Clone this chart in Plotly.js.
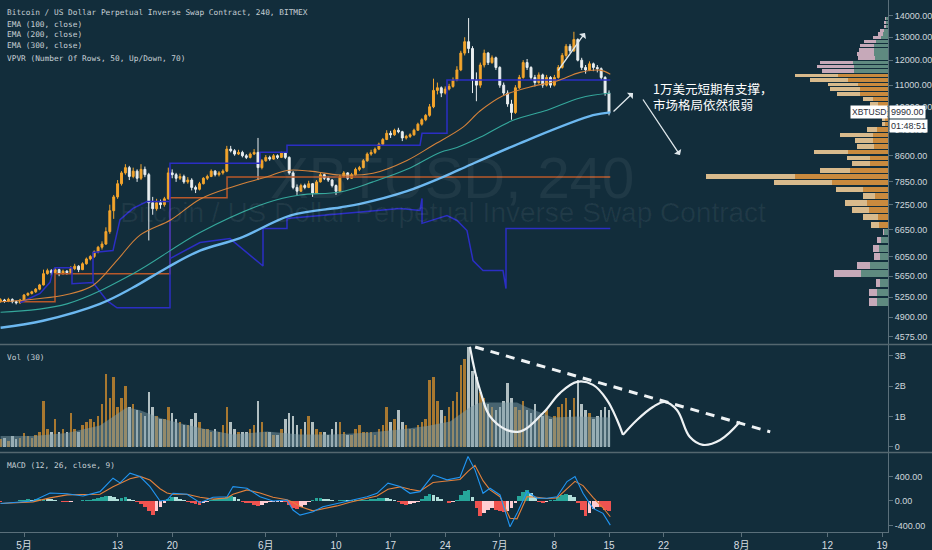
<!DOCTYPE html>
<html><head><meta charset="utf-8">
<script src="https://cdn.plot.ly/plotly-3.0.1.min.js"></script>
<style>html,body{margin:0;padding:0;background:#122d3b;}#chart{width:932px;height:550px;}</style>
</head><body><div id="chart"></div>
<script>
// ---------- 12h candles, BitMEX XBTUSD ----------
const candleStart = '2019-04-28 00:00';
const O = [5180,5200,5180,5210,5170,5150,5200,5290,5320,5350,5400,5480,5700,5760,5720,5780,5700,5750,5720,5800,5850,5780,5900,6000,6050,6150,6250,6320,6600,7100,7450,7800,8100,8250,8000,8150,7950,8200,8050,7300,7150,7300,7250,7400,8100,8050,7950,8000,7850,7900,7700,7650,7800,7950,8000,8150,8050,8100,8150,8800,8750,8650,8700,8600,8550,8650,8700,8250,8450,8550,8500,8600,8550,8680,8550,8100,7700,7600,7750,7700,7800,7550,7850,8050,7950,7900,7750,7600,8000,8100,7950,8050,8200,8250,8450,8650,8700,8800,8950,9100,9300,9250,9400,9350,9150,9200,9250,9400,9600,9750,9900,10200,10800,10900,10700,10850,10950,11200,11600,12300,12800,12500,11200,11000,11800,12300,11900,12100,11700,11000,10700,10300,10000,10900,11300,11900,11700,11300,11100,11400,11000,11300,11000,11300,11700,12200,12600,12400,12900,12000,11700,11600,11850,11700,11650,11300,10700];
const H = [5230,5220,5240,5230,5190,5220,5310,5340,5370,5420,5500,5780,5800,5790,5820,5800,5780,5770,5850,5900,5870,5930,6030,6080,6180,6280,6380,6700,7250,7500,7900,8150,8350,8300,8250,8200,8350,8280,8100,7450,7400,7380,7450,8250,8200,8100,8080,8050,7980,7950,7750,7850,7980,8050,8200,8180,8150,8200,8900,8900,8800,8780,8750,8650,8700,8800,9150,8500,8620,8600,8650,8640,8720,8700,8580,8150,7780,7800,7800,7880,7820,7900,8100,8080,8000,7930,7780,8050,8150,8120,8100,8250,8300,8500,8700,8780,8850,9000,9150,9400,9380,9450,9480,9380,9250,9300,9450,9650,9800,9950,10300,11250,11100,10950,10950,11050,11300,11750,12400,13000,13900,12600,11500,11900,12450,12350,12200,12150,11750,11100,10800,10450,11000,11400,12000,12050,11750,11400,11500,11450,11400,11350,11400,11800,12300,12700,12700,13250,12950,12100,11800,11950,11900,11800,11700,11350,10800];
const L = [5150,5150,5160,5140,5120,5130,5190,5270,5300,5330,5380,5470,5680,5660,5700,5650,5680,5680,5710,5770,5730,5770,5880,5970,6020,6120,6200,6300,6550,6900,7400,7750,8050,7900,7950,7850,7900,7980,6400,7000,7100,7150,7200,7380,7950,7850,7900,7800,7800,7620,7550,7620,7780,7900,7980,8000,8000,8050,8120,8700,8600,8620,8550,8500,8520,8620,7900,8200,8420,8450,8480,8500,8530,8500,8050,7650,7500,7580,7650,7680,7450,7530,7830,7900,7850,7700,7500,7580,7970,7900,7930,8030,8150,8230,8420,8600,8650,8770,8900,9080,9150,9220,9300,9050,9100,9150,9220,9380,9550,9700,9850,10150,10650,10550,10650,10800,10900,11150,11550,12200,12300,10700,10400,10900,11700,11800,11850,11600,10900,10600,10200,9750,9950,10850,11250,11600,11200,10950,11050,10900,10950,10900,10950,11250,11650,12100,12300,12350,11950,11600,11450,11550,11550,11500,11200,10600,9900];
const C = [5200,5180,5210,5170,5150,5200,5290,5320,5350,5400,5480,5700,5760,5720,5780,5700,5750,5720,5800,5850,5780,5900,6000,6050,6150,6250,6320,6600,7100,7450,7800,8100,8250,8000,8150,7950,8200,8050,7300,7150,7300,7250,7400,8100,8050,7950,8000,7850,7900,7700,7650,7800,7950,8000,8150,8050,8100,8150,8800,8750,8650,8700,8600,8550,8650,8700,8250,8450,8550,8500,8600,8550,8680,8550,8100,7700,7600,7750,7700,7800,7550,7850,8050,7950,7900,7750,7600,8000,8100,7950,8050,8200,8250,8450,8650,8700,8800,8950,9100,9300,9250,9400,9350,9150,9200,9250,9400,9600,9750,9900,10200,10800,10900,10700,10850,10950,11200,11600,12300,12800,12500,11200,11000,11800,12300,11900,12100,11700,11000,10700,10300,10000,10900,11300,11900,11700,11300,11100,11400,11000,11300,11000,11300,11700,12200,12600,12400,12900,12000,11700,11600,11850,11700,11650,11300,10700,9990];
// volume per bar, billions
const VOL = [0.25,0.3,0.2,0.35,0.25,0.3,0.45,0.35,0.3,0.4,0.5,1.5,0.6,0.5,0.9,0.5,0.6,0.5,1.1,0.6,0.5,0.7,0.8,0.9,0.8,1.0,1.4,2.4,1.6,2.3,1.3,1.6,2.0,1.3,1.4,1.2,1.1,1.0,1.8,1.3,1.0,0.9,0.9,1.3,1.1,0.9,0.8,0.7,0.7,0.9,1.1,0.8,0.6,0.6,0.5,0.6,0.5,0.7,1.3,0.8,0.6,0.5,0.5,0.5,0.6,0.7,1.5,0.8,0.5,0.5,0.4,0.4,0.6,0.9,1.1,1.0,0.7,0.6,0.8,1.0,0.8,0.6,0.5,0.5,0.4,0.6,0.8,0.8,0.5,0.4,0.4,0.6,0.7,0.5,0.5,0.5,0.4,0.6,0.7,1.3,0.8,0.9,1.2,0.8,0.7,0.6,0.6,0.7,0.8,0.9,2.2,2.3,1.5,1.2,1.0,1.3,1.5,1.8,2.7,2.9,3.3,2.5,2.3,1.8,1.6,1.4,1.3,1.2,1.3,1.5,2.1,1.6,1.3,1.2,1.5,1.2,1.1,1.4,1.0,1.0,1.2,0.9,1.0,1.3,1.4,1.6,1.2,1.6,2.2,1.4,1.2,1.1,0.9,1.0,1.2,1.3,1.2];
// MACD histogram per bar
const HIST = [-10,-8,-5,-5,0,10,20,25,20,25,30,40,35,25,15,5,-10,-15,-10,-5,5,10,15,20,30,50,70,85,80,60,30,50,60,40,10,-20,-50,-90,-160,-220,-170,-100,-40,30,70,60,40,10,-10,-30,-50,-60,-40,-20,10,30,40,50,70,75,60,30,-10,-30,-40,-60,-80,-60,-30,-20,-15,-10,-10,-20,-60,-110,-130,-100,-60,-20,20,45,50,40,30,15,0,10,15,10,10,15,15,20,20,25,35,45,50,45,30,10,-20,-50,-60,-50,-30,-10,40,80,110,100,70,40,0,-30,-20,10,90,160,180,60,-120,-250,-200,-150,-120,-140,-160,-180,-170,-110,-30,80,150,180,130,60,-10,-40,-20,10,20,60,100,110,90,70,-40,-150,-240,-200,-130,-90,-100,-140,-160];

// ---------- moving averages ----------
const ema100Dates = ['2019-04-28 00:00','2019-04-30 12:18','2019-05-06 12:18','2019-05-09 20:18','2019-05-12 22:09','2019-05-15 20:55','2019-05-19 20:18','2019-05-23 13:32','2019-05-27 19:05','2019-06-01 03:41','2019-06-03 17:14','2019-06-06 16:00','2019-06-10 12:18','2019-06-14 17:51','2019-06-19 02:28','2019-06-22 10:35','2019-06-26 06:46','2019-06-28 11:05','2019-07-01 09:50','2019-07-04 20:55','2019-07-08 08:00','2019-07-11 06:46','2019-07-13 20:18','2019-07-15 04:00'];
const ema100Vals = [5170,5190,5300,5470,5970,6520,6880,7390,7720,7990,8170,8150,8040,8090,8460,8920,9500,10050,10600,10930,11160,11500,11590,11430];
const ema200Dates = ['2019-04-28 00:00','2019-05-06 12:18','2019-05-14 23:23','2019-05-23 13:32','2019-06-01 03:41','2019-06-05 09:14','2019-06-10 12:18','2019-06-14 17:51','2019-06-19 02:28','2019-06-23 08:00','2019-06-25 12:18','2019-06-28 11:05','2019-07-02 16:37','2019-07-07 01:13','2019-07-11 06:46','2019-07-15 04:00'];
const ema200Vals = [4982,5130,5700,6580,7300,7500,7580,7850,8200,8700,8850,9170,9733,10080,10520,10700];
const ema300Dates = ['2019-04-28 00:00','2019-05-03 10:28','2019-05-10 17:51','2019-05-14 23:23','2019-05-19 08:00','2019-05-23 13:32','2019-05-28 16:37','2019-06-04 02:28','2019-06-10 12:18','2019-06-13 01:51','2019-06-19 02:28','2019-06-23 08:00','2019-06-25 21:32','2019-07-04 11:43','2019-07-12 22:46','2019-07-15 04:00'];
const ema300Vals = [4720,4837,5130,5430,5820,6178,6450,6980,7180,7270,7600,7950,8200,9076,9905,10005];
const vmaDates = ['2019-04-28 00:00','2019-05-02 03:41','2019-05-06 12:18','2019-05-10 17:51','2019-05-14 05:00','2019-05-15 20:55','2019-05-18 10:30','2019-05-21 00:00','2019-05-24 11:05','2019-05-27 19:05','2019-06-01 03:41','2019-06-05 09:14','2019-06-09 14:50','2019-06-13 23:20','2019-06-18 05:00','2019-06-21 16:00','2019-06-24 15:00','2019-06-27 04:18','2019-06-28 11:05','2019-07-03 05:00','2019-07-04 11:43','2019-07-07 19:40','2019-07-10 21:40','2019-07-15 04:00'];
const vmaVals = [0.35,0.35,0.45,0.7,1.3,1.2,0.95,0.77,0.57,0.4,0.5,0.4,0.4,0.46,0.57,0.68,0.83,1.3,1.46,1.46,1.3,0.96,1.0,0.96];
const macdDates = ['2019-04-28 00:00','2019-05-02 03:41','2019-05-04 08:00','2019-05-06 12:18','2019-05-08 13:32','2019-05-10 17:51','2019-05-12 09:50','2019-05-13 07:23','2019-05-14 14:09','2019-05-15 20:55','2019-05-17 03:41','2019-05-18 10:30','2019-05-19 08:00','2019-05-20 02:28','2019-05-21 21:32','2019-05-23 13:32','2019-05-25 05:32','2019-05-27 00:42','2019-05-27 19:05','2019-05-29 14:09','2019-05-31 06:09','2019-06-01 22:09','2019-06-03 17:14','2019-06-04 11:43','2019-06-05 09:14','2019-06-07 01:13','2019-06-08 08:00','2019-06-10 03:05','2019-06-11 19:05','2019-06-13 23:20','2019-06-15 06:09','2019-06-16 16:00','2019-06-18 05:00','2019-06-19 11:46','2019-06-20 18:28','2019-06-22 10:35','2019-06-24 05:32','2019-06-25 21:32','2019-06-26 22:09','2019-06-27 19:40','2019-06-28 20:18','2019-06-29 17:51','2019-07-01 00:42','2019-07-02 07:23','2019-07-03 05:00','2019-07-04 11:43','2019-07-05 18:28','2019-07-07 01:13','2019-07-08 08:00','2019-07-09 14:50','2019-07-10 15:23','2019-07-11 16:00','2019-07-12 22:46','2019-07-14 05:32','2019-07-15 04:00'];
const macdVals = [-40,0,130,118,82,152,370,294,452,397,234,0,16,125,110,-27,60,70,234,207,70,0,16,-147,-229,-174,-92,-38,16,70,125,289,234,125,152,425,343,385,723,506,125,207,98,-420,-201,152,44,44,70,316,397,125,-120,-201,-392];
const signalVals = [-40,-15,50,100,105,110,230,280,360,400,340,200,130,110,110,60,30,50,110,180,130,60,20,-20,-90,-160,-130,-80,-20,40,80,190,230,190,160,300,330,350,480,580,330,180,70,-280,-290,70,60,40,50,200,320,250,60,-110,-256];

// ---------- overlays from the chart ----------
const blueStepDates = ['2019-04-30 12:18','2019-05-03 01:13','2019-05-04 08:00','2019-05-04 17:14','2019-05-04 23:23','2019-05-07 03:41','2019-05-07 03:41','2019-05-09 20:18','2019-05-11 15:22','2019-05-12 22:09','2019-05-19 17:14','2019-05-19 17:14','2019-05-31 06:09','2019-05-31 06:09','2019-06-03 17:14','2019-06-03 17:14','2019-06-20 18:28','2019-06-21 00:42','2019-06-24 05:32','2019-06-24 05:32','2019-07-15 04:00',null,
 '2019-05-09 20:18','2019-05-09 20:18','2019-05-12 09:50','2019-05-13 07:23','2019-05-14 23:23','2019-05-16 18:28','2019-05-19 17:14',null,
 '2019-05-19 17:14','2019-05-23 13:32','2019-05-27 09:50','2019-05-31 15:23','2019-05-31 15:23','2019-06-03 17:14','2019-06-03 17:14','2019-06-18 05:00','2019-06-20 18:28','2019-06-21 00:42','2019-06-21 00:42','2019-06-24 05:32','2019-06-25 12:18','2019-06-26 19:05','2019-06-27 13:32','2019-06-28 20:18','2019-07-01 09:50','2019-07-01 19:05','2019-07-01 19:05','2019-07-15 04:00'];
const blueStepVals = [5150,5320,5530,5761,5820,5820,5505,5525,5187,5060,5060,8375,8375,8705,8705,8918,8918,9300,9300,11195,11195,null,
 5525,6136,6178,6883,7158,7330,7330,null,
 6008,6354,6442,5854,6672,6672,6910,7155,7105,7410,6793,6980,6861,6625,5966,5761,5761,5412,6672,6672];
const brownDates = ['2019-04-30 12:18','2019-05-04 23:23','2019-05-04 23:23','2019-05-19 17:14','2019-05-19 17:14','2019-05-27 00:42','2019-05-27 00:42','2019-07-15 04:00'];
const brownVals = [5170,5170,5700,5700,7430,7430,7984,7984];
// volume pane drawing (wave + dashed trend)
const waveDates1 = ['2019-06-27 04:00','2019-06-28 11:00','2019-06-30 03:00','2019-07-03 08:00','2019-07-06 13:00','2019-07-08 17:00','2019-07-10 22:00','2019-07-12 23:00','2019-07-14 18:00','2019-07-16 01:00','2019-07-16 19:00'];
const waveVals1 = [3.30,1.87,0.88,0.49,1.11,1.77,2.14,2.04,1.54,0.88,0.39];
const waveDates2 = ['2019-07-16 19:00','2019-07-18 14:00','2019-07-20 15:00','2019-07-22 04:00','2019-07-23 17:00','2019-07-25 09:00','2019-07-27 01:00','2019-07-29 06:00','2019-07-31 19:00'];
const waveVals2 = [0.39,0.88,1.31,1.48,1.21,0.32,0.06,0.22,0.82];
const trendDates = ['2019-06-27 20:00','2019-08-04 16:00'];
const trendVals = [3.29,0.49];

// ---------- volume profile (VPVR, 50 rows) ----------
const vpRowSize = 177.5;
const vpPrice = [5163,5340,5518,5695,5873,6050,6228,6405,6583,6760,6938,7115,7293,7470,7648,7825,8003,8180,8358,8535,8713,8890,9068,9245,9423,9600,9778,9955,10133,10310,10488,10665,10843,11020,11198,11375,11553,11730,11908,12085,12263,12440,12618,12795,12973,13150,13328,13505,13683,13860];
const vpUp = [11,11,8,27,18,8,9,7,4,9,10,19,21,13,25,56,93,38,18,18,40,14,15,15,11,3,3,5,8,10,15,28,28,30,40,50,34,34,35,13,14,14,14,12,7,5,4,2,2,2];
const vpDn = [8,8,4,27,13,6,6,4,1,8,15,17,22,12,27,58,89,30,18,23,34,17,18,33,10,3,3,5,7,8,10,23,30,30,38,43,32,37,33,17,17,15,14,12,8,5,4,2,2,1];
const vaLow = 9, vaHigh = 35;

// ---------- axes labels ----------
const xTickVals = ['2019-05-01','2019-05-13','2019-05-20','2019-06-01','2019-06-10','2019-06-17','2019-06-24','2019-07-01','2019-07-08','2019-07-15','2019-07-22','2019-08-01','2019-08-12','2019-08-19'];
const xTickText = ['5月','13','20','6月','10','17','24','7月','8','15','22','8月','12','19'];
const priceTicks = [4575,4900,5250,5650,6050,6650,7250,7850,8600,9400,10200,11000,12000,13000,14000];
const volTicks = [0,1,2,3];
const volTickText = ['0','1B','2B','3B'];
const macdTicks = [-400,0,400];
const lastPrice = '9990.00', countdown = '01:48:51';
const noteText = '1万美元短期有支撑，<br>市场格局依然很弱';

// ---------- build ----------
function fmt(ms){const d=new Date(ms);const p=n=>String(n).padStart(2,'0');return d.getUTCFullYear()+'-'+p(d.getUTCMonth()+1)+'-'+p(d.getUTCDate())+' '+p(d.getUTCHours())+':'+p(d.getUTCMinutes());}
const t0 = Date.parse(candleStart.replace(' ','T')+':00Z');
const STEP = 12*3600e3;
const T = C.map((_,i)=>fmt(t0+i*STEP));

const BG = '#122d3b', AX = '#5a6f7a', TXT = '#cfd7dc';
const ORANGE = '#f4a52c', WHITE = '#e9eef0';

const volColors = C.map((c,i)=> c>=O[i] ? 'rgba(226,150,45,0.72)' : 'rgba(222,232,232,0.78)');
const histColors = HIST.map((h,i)=>{const prev=i?HIST[i-1]:0; if(h>=0) return h>=prev?'#26a69a':'#b2dfdb'; return h<prev?'#ef5350':'#ffcdd2';});

const vpY = vpPrice.map(p=>Math.log10(p));
const vpW = vpPrice.map(p=>0.8*Math.log10((p+vpRowSize/2)/(p-vpRowSize/2)));
const upCol = vpPrice.map((_,i)=> (i>=vaLow&&i<=vaHigh)?'#c98a3e':'#5f8a80');
const dnCol = vpPrice.map((_,i)=> (i>=vaLow&&i<=vaHigh)?'#d8ba8c':'#c6a9b9');

const traces = [
 {type:'scatter',mode:'lines',x:brownDates,y:brownVals,xaxis:'x',yaxis:'y',line:{color:'#b8582a',width:1.5},hoverinfo:'skip'},
 {type:'scatter',mode:'lines',x:blueStepDates,y:blueStepVals,xaxis:'x',yaxis:'y',connectgaps:false,line:{color:'#2b2ec4',width:1.5},hoverinfo:'skip'},
 {type:'scatter',mode:'lines',x:ema300Dates,y:ema300Vals,xaxis:'x',yaxis:'y',line:{color:'#6cb8f0',width:2.4,shape:'spline'},hoverinfo:'skip'},
 {type:'scatter',mode:'lines',x:ema200Dates,y:ema200Vals,xaxis:'x',yaxis:'y',line:{color:'#35a89c',width:1.1,shape:'spline'},hoverinfo:'skip'},
 {type:'scatter',mode:'lines',x:ema100Dates,y:ema100Vals,xaxis:'x',yaxis:'y',line:{color:'#d4823a',width:1.1,shape:'spline'},hoverinfo:'skip'},
 {type:'candlestick',x:T,open:O,high:H,low:L,close:C,xaxis:'x',yaxis:'y',whiskerwidth:0,
   increasing:{line:{color:ORANGE,width:1},fillcolor:ORANGE},decreasing:{line:{color:WHITE,width:1},fillcolor:WHITE},hoverinfo:'skip'},
 // volume
 {type:'scatter',mode:'lines',x:vmaDates,y:vmaVals,xaxis:'x',yaxis:'y2',fill:'tozeroy',fillcolor:'rgba(125,155,165,0.5)',line:{width:0,color:'rgba(0,0,0,0)'},hoverinfo:'skip'},
 {type:'bar',x:T,y:VOL,xaxis:'x',yaxis:'y2',marker:{color:volColors,line:{width:0}},width:STEP*0.62,hoverinfo:'skip'},
 {type:'scatter',mode:'lines',x:waveDates1,y:waveVals1,xaxis:'x',yaxis:'y2',line:{color:'#eef2f4',width:2.2,shape:'spline',smoothing:1.1},hoverinfo:'skip'},
 {type:'scatter',mode:'lines',x:waveDates2,y:waveVals2,xaxis:'x',yaxis:'y2',line:{color:'#eef2f4',width:2.2,shape:'spline',smoothing:1.1},hoverinfo:'skip'},
 {type:'scatter',mode:'lines',x:trendDates,y:trendVals,xaxis:'x',yaxis:'y2',line:{color:'#eef2f4',width:3,dash:'9px,7px'},hoverinfo:'skip'},
 // MACD
 {type:'bar',x:T,y:HIST,xaxis:'x',yaxis:'y3',marker:{color:histColors,line:{width:0}},width:STEP*0.95,hoverinfo:'skip'},
 {type:'scatter',mode:'lines',x:macdDates,y:signalVals,xaxis:'x',yaxis:'y3',line:{color:'#e4813b',width:1.1},hoverinfo:'skip'},
 {type:'scatter',mode:'lines',x:macdDates,y:macdVals,xaxis:'x',yaxis:'y3',line:{color:'#2196f3',width:1.1},hoverinfo:'skip'},
 // VPVR
 {type:'bar',orientation:'h',y:vpY,x:vpUp,width:vpW,xaxis:'x2',yaxis:'y4',marker:{color:upCol,line:{width:0}},hoverinfo:'skip'},
 {type:'bar',orientation:'h',y:vpY,x:vpDn,width:vpW,xaxis:'x2',yaxis:'y4',marker:{color:dnCol,line:{width:0}},hoverinfo:'skip'}
];

const PH = 532, PW = 888;
const py = v => 1 - v/PH, px = v => v/PW;
const logLo = 3.64932, logHi = 4.17035;
const tickFont = {family:'Liberation Sans, Arial, sans-serif',size:9,color:TXT};
const mono = {family:'DejaVu Sans Mono, monospace',size:7.8,color:'#c6cfd5'};

function label(text,y){return {xref:'paper',yref:'paper',x:px(5),y:py(y),xanchor:'left',yanchor:'middle',text:text,showarrow:false,font:mono};}
function arrow(hx,hy,tx,ty){return {xref:'paper',yref:'paper',x:px(hx),y:py(hy),ax:tx-hx,ay:ty-hy,text:'',showarrow:true,arrowhead:1,arrowsize:1.1,arrowwidth:1.3,arrowcolor:'#dfe7eb'};}

const layout = {
 width:932,height:550,margin:{l:0,r:44,t:0,b:18},paper_bgcolor:BG,plot_bgcolor:BG,
 showlegend:false,hovermode:false,barmode:'stack',bargap:0,
 xaxis:{type:'date',range:['2019-04-27 22:09','2019-08-19 18:28'],domain:[0,1],anchor:'y3',showgrid:false,zeroline:false,
   showline:true,linecolor:AX,linewidth:1,ticks:'outside',ticklen:4,tickcolor:AX,tickvals:xTickVals,ticktext:xTickText,
   tickfont:{family:'Liberation Sans, Noto Sans CJK SC, sans-serif',size:10,color:'#d6dde1'},rangeslider:{visible:false},fixedrange:true},
 xaxis2:{overlaying:'x',range:[PW,0],visible:false,showgrid:false,zeroline:false,fixedrange:true},
 yaxis:{type:'log',domain:[py(344),1],range:[logLo,logHi],side:'right',anchor:'x',showgrid:false,zeroline:false,
   showline:true,linecolor:AX,ticks:'outside',ticklen:4,tickcolor:AX,tickvals:priceTicks,ticktext:priceTicks.map(v=>v.toFixed(2)),tickfont:tickFont,fixedrange:true},
 yaxis2:{domain:[py(452),py(345)],range:[-0.175,3.356],side:'right',anchor:'x',showgrid:false,zeroline:false,
   showline:true,linecolor:AX,ticks:'outside',ticklen:4,tickcolor:AX,tickvals:volTicks,ticktext:volTickText,tickfont:tickFont,fixedrange:true},
 yaxis3:{domain:[0,py(453)],range:[-504,780],side:'right',anchor:'x',showgrid:false,zeroline:false,
   showline:true,linecolor:AX,ticks:'outside',ticklen:4,tickcolor:AX,tickvals:macdTicks,ticktext:macdTicks.map(v=>v.toFixed(2)),tickfont:tickFont,fixedrange:true},
 yaxis4:{overlaying:'y',range:[logLo,logHi],visible:false,showgrid:false,zeroline:false,fixedrange:true},
 shapes:[
  {type:'line',xref:'paper',yref:'paper',x0:0,x1:932/PW,y0:py(344.5),y1:py(344.5),line:{color:'#54676f',width:1.5}},
  {type:'line',xref:'paper',yref:'paper',x0:0,x1:932/PW,y0:py(452.5),y1:py(452.5),line:{color:'#54676f',width:1.5}},
  {type:'rect',xref:'x',yref:'y',x0:'2019-06-18 05:00',x1:'2019-07-18 23:23',y0:Math.log10(9674),y1:Math.log10(10087),fillcolor:'rgba(205,212,216,0.42)',line:{width:0},layer:'above'},
  {type:'rect',xref:'paper',yref:'y',x0:0,x1:px(20),y0:Math.log10(5044),y1:Math.log10(5701),fillcolor:'rgba(140,185,140,0.42)',line:{width:0},layer:'above'}
 ],
 annotations:[
  {xref:'paper',yref:'paper',x:px(452),y:py(143),text:'XBTUSD, 240',showarrow:false,font:{family:'Liberation Sans, sans-serif',size:58,color:'rgba(255,255,255,0.06)'}},
  {xref:'paper',yref:'paper',x:px(443),y:py(212),text:'Bitcoin / US Dollar Perpetual Inverse Swap Contract',showarrow:false,font:{family:'Liberation Sans, sans-serif',size:28,color:'rgba(255,255,255,0.06)'}},
  label('Bitcoin / US Dollar Perpetual Inverse Swap Contract, 240, BITMEX',12.7),
  label('EMA (100, close)',24),
  label('EMA (200, close)',35),
  label('EMA (300, close)',46),
  label('VPVR (Number Of Rows, 50, Up/Down, 70)',58.3),
  label('Vol (30)',357),
  label('MACD (12, 26, close, 9)',465.6),
  arrow(585,33,557,72),
  arrow(633,93,612,113),
  arrow(680,155,642,98),
  {xref:'paper',yref:'paper',x:px(651),y:py(96),xanchor:'left',yanchor:'middle',align:'left',text:noteText,showarrow:false,font:{family:'Noto Sans CJK SC, sans-serif',size:12.5,color:'#ffffff'}},
  {xref:'paper',yref:'paper',x:1,y:py(112),xanchor:'right',yanchor:'middle',text:'XBTUSD',showarrow:false,bgcolor:'#ffffff',borderpad:1,font:{family:'Liberation Sans, sans-serif',size:8.5,color:'#2a2e39'}},
  {xref:'paper',yref:'paper',x:px(889),y:py(112),xanchor:'left',yanchor:'middle',text:lastPrice,showarrow:false,bgcolor:'#ffffff',borderpad:1,font:{family:'Liberation Sans, sans-serif',size:9,color:'#2a2e39'}},
  {xref:'paper',yref:'paper',x:px(889),y:py(126),xanchor:'left',yanchor:'middle',text:countdown,showarrow:false,bgcolor:'#ffffff',borderpad:1,font:{family:'Liberation Sans, sans-serif',size:9,color:'#2a2e39'}}
 ]
};
Plotly.newPlot('chart',traces,layout,{staticPlot:true,displayModeBar:false});
</script></body></html>
